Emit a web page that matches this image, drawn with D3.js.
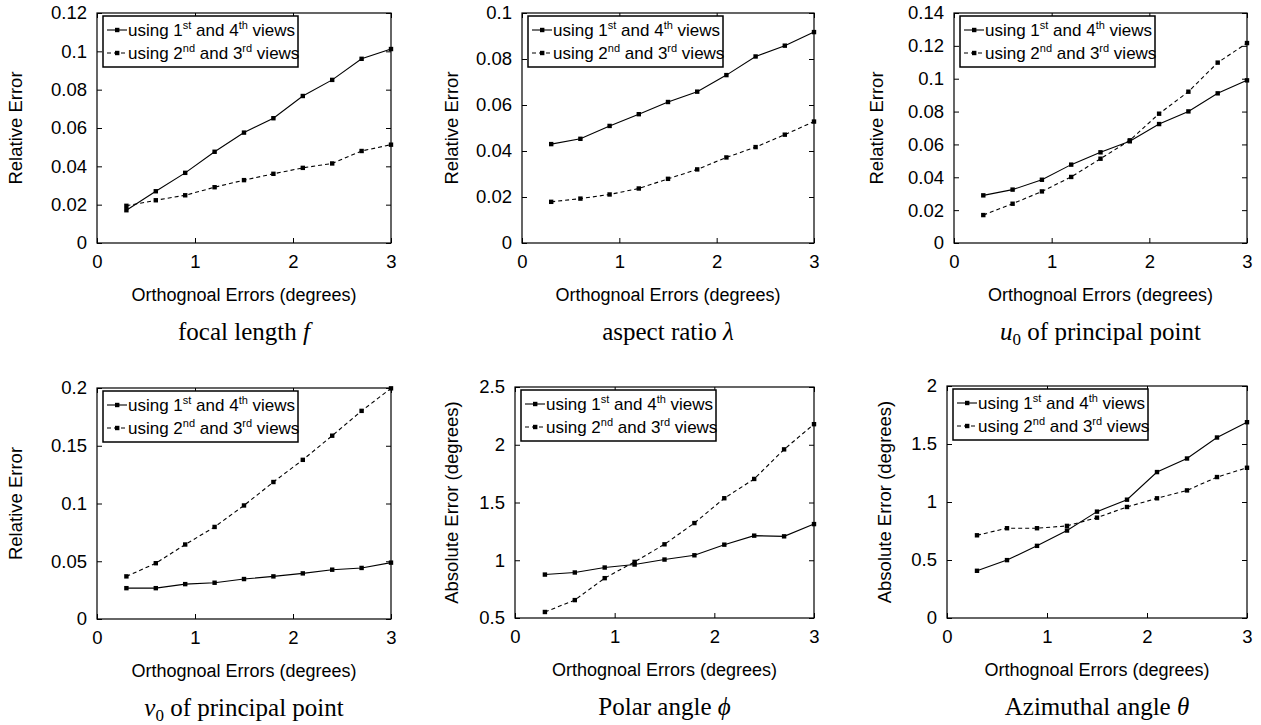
<!DOCTYPE html>
<html>
<head>
<meta charset="utf-8">
<script src="https://cdn.jsdelivr.net/npm/d3@7"></script>
<style>
  body { margin: 0; background: #fff; }
  text { font-family: "Liberation Sans", Arial, sans-serif; fill: #000; }
  .cap { font-family: "Liberation Serif", "Times New Roman", serif; }
</style>
</head>
<body>
<svg id="viz"></svg>
<script>
let width = 1261;
let height = 725;

// orthogonal error levels (degrees)
const errLevels = [0.3, 0.6, 0.9, 1.2, 1.5, 1.8, 2.1, 2.4, 2.7, 3.0];

// series: "using 1st and 4th views" (A), "using 2nd and 3rd views" (B)
const focalA = [0.0171, 0.0270, 0.0366, 0.0476, 0.0576, 0.0651, 0.0767, 0.0851, 0.0961, 0.1012];
const focalB = [0.0194, 0.0223, 0.0249, 0.0291, 0.0328, 0.0361, 0.0392, 0.0415, 0.0480, 0.0513];
const aspectA = [0.0430, 0.0453, 0.0509, 0.0560, 0.0613, 0.0658, 0.0730, 0.0811, 0.0858, 0.0917];
const aspectB = [0.0179, 0.0193, 0.0211, 0.0237, 0.0279, 0.0320, 0.0372, 0.0417, 0.0471, 0.0528];
const u0A = [0.0290, 0.0325, 0.0385, 0.0477, 0.0552, 0.0619, 0.0724, 0.0801, 0.0911, 0.0990];
const u0B = [0.0170, 0.0239, 0.0314, 0.0402, 0.0513, 0.0625, 0.0787, 0.0921, 0.1098, 0.1217];
const v0A = [0.0267, 0.0267, 0.0302, 0.0314, 0.0346, 0.0369, 0.0395, 0.0427, 0.0442, 0.0488];
const v0B = [0.0369, 0.0483, 0.0645, 0.0797, 0.0983, 0.1186, 0.1378, 0.1587, 0.1802, 0.1997];
const polarA = [0.876, 0.894, 0.937, 0.963, 1.006, 1.043, 1.135, 1.213, 1.207, 1.313];
const polarB = [0.552, 0.655, 0.845, 0.986, 1.138, 1.322, 1.537, 1.704, 1.960, 2.178];
const azimA = [0.407, 0.499, 0.622, 0.754, 0.917, 1.020, 1.258, 1.375, 1.556, 1.688];
const azimB = [0.713, 0.774, 0.774, 0.794, 0.865, 0.957, 1.032, 1.100, 1.215, 1.295];

const xTicks = [0, 1, 2, 3];
const xLabel = "Orthognoal Errors (degrees)";
const relLabel = "Relative Error";
const absLabel = "Absolute Error (degrees)";

// panel layout: plot box in page pixels
let panels = [
    { a: focalA, b: focalB, yDomain: [0, 0.12], yTicks: [0, 0.02, 0.04, 0.06, 0.08, 0.1, 0.12], yLabel: relLabel,
      box: [97, 13, 391, 243], yLabelX: 16, cap: [["focal length ", ""], ["f", "i"]] },
    { a: aspectA, b: aspectB, yDomain: [0, 0.1], yTicks: [0, 0.02, 0.04, 0.06, 0.08, 0.1], yLabel: relLabel,
      box: [522, 13, 814, 243], yLabelX: 452, cap: [["aspect ratio ", ""], ["λ", "i"]] },
    { a: u0A, b: u0B, yDomain: [0, 0.14], yTicks: [0, 0.02, 0.04, 0.06, 0.08, 0.1, 0.12, 0.14], yLabel: relLabel,
      box: [954, 13, 1247, 243], yLabelX: 877, cap: [["u", "i"], ["0", "sub"], [" of principal point", ""]] },
    { a: v0A, b: v0B, yDomain: [0, 0.2], yTicks: [0, 0.05, 0.1, 0.15, 0.2], yLabel: relLabel,
      box: [97, 388, 391, 619], yLabelX: 16, cap: [["v", "i"], ["0", "sub"], [" of principal point", ""]] },
    { a: polarA, b: polarB, yDomain: [0.5, 2.5], yTicks: [0.5, 1, 1.5, 2, 2.5], yLabel: absLabel,
      box: [515, 387, 814, 618], yLabelX: 452, cap: [["Polar angle ", ""], ["ϕ", "i"]] },
    { a: azimA, b: azimB, yDomain: [0, 2], yTicks: [0, 0.5, 1, 1.5, 2], yLabel: absLabel,
      box: [947, 386, 1247, 618], yLabelX: 885, cap: [["Azimuthal angle ", ""], ["θ", "i"]] }
];

let svg = d3.select("#viz")
    .attr("width", width)
    .attr("height", height);

let fmt = d3.format("~g");
let tickFont = "18.5px";
let labelFont = "18px";

function drawPanel(p) {
    let [x0, y0, x1, y1] = p.box;
    let x = d3.scaleLinear().domain([0, 3]).range([x0, x1]);
    let y = d3.scaleLinear().domain(p.yDomain).range([y1, y0]);
    let g = svg.append("g");

    // inner ticks on all four sides
    g.append("g").attr("transform", `translate(0,${y1})`)
        .call(d3.axisBottom(x).tickValues(xTicks).tickFormat(fmt).tickSizeInner(-5).tickSizeOuter(0).tickPadding(12))
        .call(a => a.select(".domain").remove())
        .call(a => a.selectAll("text").style("font-size", tickFont).attr("font-family", null));
    g.append("g").attr("transform", `translate(0,${y0})`)
        .call(d3.axisTop(x).tickValues(xTicks).tickFormat("").tickSizeInner(-5).tickSizeOuter(0))
        .call(a => a.select(".domain").remove());
    g.append("g").attr("transform", `translate(${x0},0)`)
        .call(d3.axisLeft(y).tickValues(p.yTicks).tickFormat(fmt).tickSizeInner(-5).tickSizeOuter(0).tickPadding(10))
        .call(a => a.select(".domain").remove())
        .call(a => a.selectAll("text").style("font-size", tickFont).attr("font-family", null));
    g.append("g").attr("transform", `translate(${x1},0)`)
        .call(d3.axisRight(y).tickValues(p.yTicks).tickFormat("").tickSizeInner(-5).tickSizeOuter(0))
        .call(a => a.select(".domain").remove());
    g.selectAll(".tick line").attr("stroke", "#000").attr("stroke-width", 1);

    g.append("rect")
        .attr("x", x0).attr("y", y0)
        .attr("width", x1 - x0).attr("height", y1 - y0)
        .attr("fill", "none").attr("stroke", "#000").attr("stroke-width", 1.2);

    let series = [
        { vals: p.a, dash: null },
        { vals: p.b, dash: "4,3" }
    ];
    let line = d3.line().x(d => x(d[0])).y(d => y(d[1]));
    for (const s of series) {
        let pts = errLevels.map((e, i) => [e, s.vals[i]]);
        g.append("path")
            .attr("d", line(pts))
            .attr("fill", "none")
            .attr("stroke", "#000")
            .attr("stroke-width", 1.1)
            .attr("stroke-dasharray", s.dash);
        g.selectAll(null)
            .data(pts)
            .enter()
            .append("rect")
            .attr("x", d => x(d[0]) - 2.2)
            .attr("y", d => y(d[1]) - 2.2)
            .attr("width", 4.4).attr("height", 4.4)
            .attr("fill", "#000");
    }

    // legend
    let lx = x0 + 6, ly = y0 + 3;
    let lg = g.append("g").attr("transform", `translate(${lx},${ly})`);
    lg.append("rect").attr("width", 195).attr("height", 51)
        .attr("fill", "#fff").attr("stroke", "#000").attr("stroke-width", 1.5);
    let entries = [
        { dash: null, parts: [["using 1", ""], ["st", "sup"], [" and 4", ""], ["th", "sup"], [" views", ""]] },
        { dash: "4,3", parts: [["using 2", ""], ["nd", "sup"], [" and 3", ""], ["rd", "sup"], [" views", ""]] }
    ];
    entries.forEach((e, i) => {
        let cy = 14 + i * 23;
        lg.append("line").attr("x1", 4).attr("x2", 24).attr("y1", cy).attr("y2", cy)
            .attr("stroke", "#000").attr("stroke-width", 1.1).attr("stroke-dasharray", e.dash);
        lg.append("rect").attr("x", 12).attr("y", cy - 2.2).attr("width", 4.4).attr("height", 4.4).attr("fill", "#000");
        let t = lg.append("text").attr("x", 25).attr("y", cy + 6).style("font-size", "17px");
        let up = false;
        for (const [str, kind] of e.parts) {
            let ts = t.append("tspan").text(str);
            if (kind == "sup") { ts.attr("dy", -7).style("font-size", "11px"); up = true; }
            else if (up) { ts.attr("dy", 7); up = false; }
        }
    });

    // axis labels
    g.append("text")
        .attr("x", (x0 + x1) / 2).attr("y", y1 + 58)
        .attr("text-anchor", "middle").style("font-size", labelFont)
        .text(xLabel);
    g.append("text")
        .attr("transform", `translate(${p.yLabelX},${(y0 + y1) / 2}) rotate(-90)`)
        .attr("text-anchor", "middle").attr("dy", "0.35em").style("font-size", "18.5px")
        .text(p.yLabel);

    // caption
    let cap = g.append("text").attr("class", "cap")
        .attr("x", (x0 + x1) / 2).attr("y", y1 + 97)
        .attr("text-anchor", "middle").style("font-size", "25px");
    let sub = false;
    for (const [str, kind] of p.cap) {
        let ts = cap.append("tspan").text(str);
        if (kind == "i") ts.style("font-style", "italic");
        if (kind == "sub") { ts.attr("dy", 5).style("font-size", "17px"); sub = true; }
        else if (sub) { ts.attr("dy", -5); sub = false; }
    }
}

panels.forEach(drawPanel);
</script>
</body>
</html>
